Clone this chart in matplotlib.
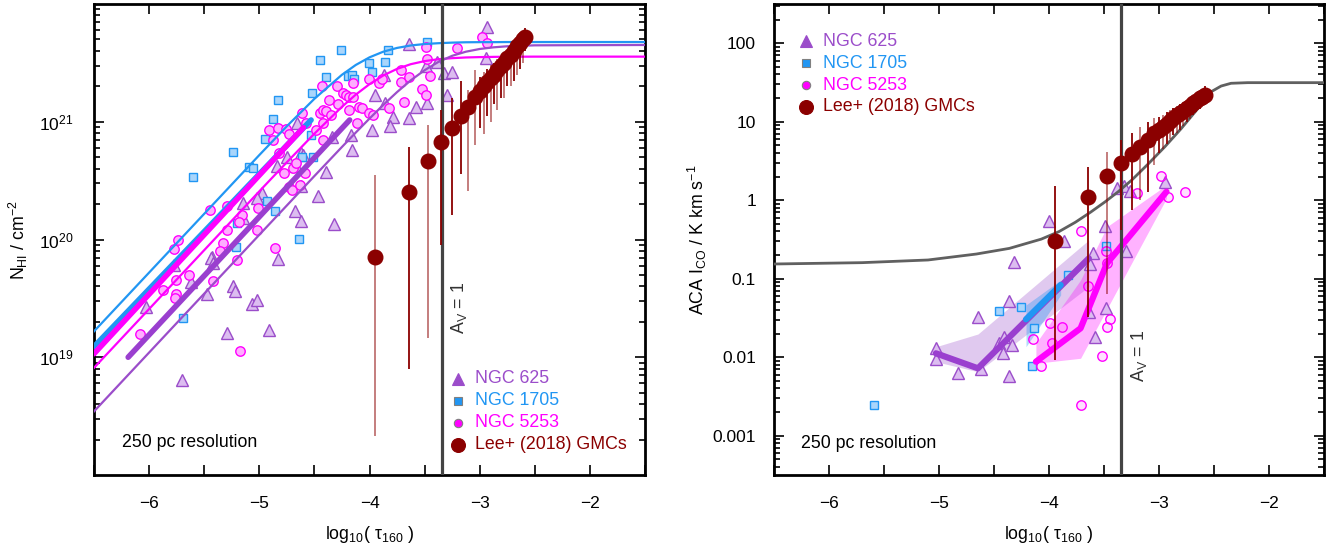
import numpy as np
import matplotlib
matplotlib.use("Agg")
import matplotlib.pyplot as plt
from matplotlib.ticker import FixedLocator, FixedFormatter, NullFormatter

plt.rcParams['font.family'] = ['Liberation Sans', 'DejaVu Sans']
plt.rcParams['mathtext.fontset'] = 'custom'
plt.rcParams['mathtext.rm'] = 'Liberation Sans'
plt.rcParams['mathtext.it'] = 'Liberation Sans:italic'
plt.rcParams['mathtext.bf'] = 'Liberation Sans:bold'
plt.rcParams['mathtext.sf'] = 'Liberation Sans'

# ---------------- colours ----------------
C625 = '#9b4dca'
C625_THICK = '#9a3fcf'
C1705 = '#2196f3'
C5253 = '#ff00ff'
CGMC = '#8b0000'
F625 = '#dcbdf0'
F1705 = '#a9d5fb'
F5253 = '#ffadff'

# ---------------- LEFT PANEL DATA: log10 tau160 vs log10 N_HI ----------------
n625_x = [-4.657, -4.618, -4.603, -4.747, -4.838, -4.669, -4.393, -4.624, -4.468, -4.678,
          -4.618, -4.323, -4.973, -5.024, -5.151, -5.145, -5.431, -4.829, -4.338, -4.167,
          -4.158, -3.977, -3.947, -3.856, -3.865, -3.784, -3.814, -3.640, -3.579, -3.480,
          -3.293, -3.640, -3.489, -3.384, -3.320, -3.254, -2.947, -2.932, -5.771, -6.024,
          -5.618, -5.476, -5.440, -5.422, -5.235, -5.220, -5.070, -5.024, -5.296, -4.910,
          -5.702]
n625_logN = [20.987, 20.737, 20.718, 20.703, 20.624, 20.624, 20.576, 20.457, 20.369, 20.245,
             20.157, 20.129, 20.398, 20.350, 20.313, 20.180, 19.854, 19.834, 20.873, 20.887,
             20.760, 20.930, 21.227, 21.156, 21.397, 21.043, 20.967, 21.029, 21.122, 21.156,
             21.227, 21.660, 21.473, 21.510, 21.411, 21.425, 21.539, 21.802, 19.783, 19.430,
             19.642, 19.537, 19.840, 19.803, 19.605, 19.565, 19.452, 19.486, 19.203, 19.231,
             18.807]

n1705_x = [-5.603, -5.235, -5.091, -5.061, -4.949, -4.880, -4.829, -4.528, -4.519, -4.453,
           -4.398, -4.257, -4.197, -4.158, -4.143, -4.001, -3.977, -3.856, -3.835, -3.480,
           -4.612, -4.513, -4.934, -4.853, -5.205, -4.640, -5.211, -5.696]
n1705_logN = [20.534, 20.743, 20.619, 20.610, 20.851, 21.021, 21.185, 20.888, 21.247, 21.524,
              21.383, 21.609, 21.389, 21.397, 21.363, 21.496, 21.425, 21.510, 21.609, 21.680,
              20.703, 20.703, 20.327, 20.242, 20.143, 20.007, 19.939, 19.336]

n5253_x = [-5.741, -5.777, -5.446, -5.296, -5.296, -5.326, -5.356, -5.160, -5.181, -5.010,
           -5.019, -4.853, -4.910, -4.880, -4.829, -4.760, -4.730, -4.820, -4.775, -4.730,
           -4.700, -4.633, -4.588, -4.609, -4.579, -4.483, -4.432, -4.453, -4.423, -4.393,
           -4.372, -4.348, -4.423, -4.423, -4.287, -4.293, -4.242, -4.212, -4.182, -4.152,
           -4.152, -4.188, -4.115, -4.097, -4.067, -4.007, -3.971, -4.001, -3.911, -3.887,
           -3.820, -3.715, -3.715, -3.691, -3.646, -3.525, -3.489, -3.483, -3.474, -3.453,
           -3.203, -2.983, -2.938, -4.694, -4.664, -5.205, -5.636, -5.753, -5.874, -5.753,
           -5.762, -5.416, -6.084, -5.175]
n5253_logN = [19.996, 19.919, 20.251, 20.287, 20.081, 19.967, 19.905, 20.208, 20.151, 20.265,
              20.081, 19.925, 20.930, 20.845, 20.944, 20.938, 20.893, 20.732, 20.562, 20.449,
              20.420, 20.463, 20.562, 21.077, 20.992, 20.930, 21.304, 21.071, 21.100, 21.094,
              21.185, 21.057, 20.987, 20.845, 21.151, 21.304, 21.241, 21.227, 21.213, 21.213,
              21.326, 21.100, 20.987, 21.122, 21.114, 21.071, 21.057, 21.360, 21.326, 21.360,
              21.114, 21.439, 21.340, 21.171, 21.383, 21.275, 21.227, 21.632, 21.530, 21.391,
              21.623, 21.717, 21.666, 20.604, 20.647, 19.826, 19.699, 19.656, 19.571, 19.537,
              19.500, 19.648, 19.197, 19.050]

# saturating fit curves
curve_x = [-6.5, -5.0, -4.75, -4.5, -4.25, -4.125, -4.0, -3.875, -3.75, -3.625, -3.5,
           -3.375, -3.25, -3.125, -3.0, -2.875, -2.75, -2.5, -1.5]
curve_1705 = [19.22, 20.717, 20.962, 21.195, 21.399, 21.482, 21.547, 21.595, 21.627, 21.648,
              21.660, 21.667, 21.672, 21.675, 21.676, 21.676, 21.677, 21.677, 21.677]
curve_5253 = [18.91, 20.409, 20.656, 20.899, 21.127, 21.230, 21.319, 21.393, 21.449, 21.489,
              21.515, 21.531, 21.540, 21.546, 21.549, 21.551, 21.552, 21.553, 21.553]
curve_625 = [18.54, 20.04, 20.289, 20.539, 20.786, 20.908, 21.027, 21.143, 21.252, 21.352,
             21.438, 21.508, 21.560, 21.595, 21.618, 21.632, 21.641, 21.649, 21.652]

# thick linear fits
thick1705_x = [-6.5, -4.53]
thick1705_logN = [19.09, 21.015]
thick5253_x = [-6.5, -4.60]
thick5253_logN = [19.03, 20.95]
thick625_x = [-6.19, -4.18]
thick625_logN = [19.00, 21.015]

# Lee+ (2018) GMCs (shared x for both panels)
gmc_x = [-3.949, -3.646, -3.471, -3.348, -3.248, -3.173, -3.104, -3.043, -3.0, -2.965,
         -2.93, -2.9, -2.87, -2.84, -2.81, -2.78, -2.75, -2.72, -2.69, -2.66, -2.63, -2.605, -2.585]
gmc_logN = [19.849, 20.406, 20.667, 20.831, 20.949, 21.049, 21.128, 21.213, 21.26, 21.30,
            21.34, 21.37, 21.40, 21.44, 21.47, 21.50, 21.54, 21.57, 21.60, 21.64, 21.67, 21.70, 21.72]
gmc_logN_lo = [18.33, 18.90, 19.163, 19.95, 20.21, 20.56, 20.41, 20.80, 20.95, 20.90,
               21.05, 21.00, 21.15, 21.10, 21.20, 21.20, 21.30, 21.30, 21.35, 21.40, 21.45, 21.50, 21.60]
gmc_logN_hi = [20.548, 20.788, 20.972, 21.10, 21.20, 21.35, 21.27, 21.44, 21.38, 21.42,
               21.45, 21.48, 21.50, 21.53, 21.56, 21.58, 21.61, 21.63, 21.66, 21.69, 21.72, 21.75, 21.80]
gmc_dark_left = [0, 1, 0, 1, 1, 1, 0, 0, 1, 0, 1, 0, 1, 0, 1, 0, 1, 0, 1, 0, 1, 0, 1]

# ---------------- RIGHT PANEL DATA: log10 tau160 vs log10 I_CO ----------------
c625_x = [-5.028, -5.028, -4.829, -4.646, -4.616, -4.450, -4.405, -4.420, -4.360, -4.360,
          -4.336, -4.315, -3.999, -3.863, -3.599, -3.629, -3.638, -3.578, -3.494, -3.479,
          -3.298, -3.383, -3.316, -3.262, -2.946]
c625_logI = [-1.886, -2.027, -2.205, -1.492, -2.154, -1.823, -1.738, -1.950, -1.279, -2.239,
             -1.844, -0.791, -0.269, -0.519, -0.668, -0.812, -1.419, -1.746, -0.328, -1.367,
             -0.646, 0.160, 0.186, 0.118, 0.237]
c1705_x = [-5.594, -4.450, -4.255, -4.134, -4.156, -3.831, -3.479]
c1705_logI = [-2.608, -1.405, -1.358, -1.632, -2.111, -0.952, -0.579]
c5253_x = [-3.713, -3.644, -3.990, -3.885, -4.143, -3.975, -4.074, -3.518, -3.713, -3.482,
           -3.449, -3.473, -2.766, -2.922, -3.202, -2.985, -3.473]
c5253_logI = [-0.392, -1.092, -1.568, -1.619, -1.768, -1.823, -2.111, -1.984, -2.608, -0.642,
              -1.507, -1.609, 0.109, 0.037, 0.088, 0.309, -0.803]

# binned trends and their ranges
trend625_x = [-5.028, -4.646, -3.638]
trend625_logI = [-1.95, -2.141, -0.74]
band625_lo = [-2.057, -2.184, -1.10]
band625_hi = [-1.866, -1.704, -0.506]
trend1705_x = [-4.209, -3.894]
trend1705_logI = [-1.517, -1.08]
band1705_lo = [-1.866, -1.207]
band1705_hi = [-1.334, -1.016]
trend5253_x = [-4.119, -3.713, -3.473, -2.932]
trend5253_logI = [-2.057, -1.631, -0.803, 0.109]
band5253_lo = [-2.077, -2.013, -1.385, 0.025]
band5253_hi = [-1.822, -1.016, -0.337, 0.194]

# model curve (grey)
model_x = [-6.5, -5.7, -5.1, -4.66, -4.36, -4.07, -3.91, -3.76, -3.62, -3.49, -3.37, -3.247,
           -3.1, -2.946, -2.8, -2.645, -2.525, -2.435, -2.345, -2.194, -1.5]
model_logI = [-0.812, -0.795, -0.761, -0.685, -0.613, -0.495, -0.40, -0.28, -0.15, -0.02,
              0.11, 0.258, 0.46, 0.683, 0.91, 1.171, 1.383, 1.455, 1.490, 1.498, 1.498]

gmc_logI = [-0.519, 0.045, 0.309, 0.471, 0.585, 0.682, 0.767, 0.853, 0.90, 0.935,
            0.975, 1.01, 1.045, 1.08, 1.11, 1.14, 1.17, 1.20, 1.235, 1.27, 1.30, 1.32, 1.341]
gmc_logI_lo = [-2.035, -1.483, -1.20, -0.38, -0.124, 0.0, 0.10, 0.45, 0.60, 0.65,
               0.72, 0.78, 0.83, 0.86, 0.90, 0.95, 1.00, 1.03, 1.08, 1.12, 1.16, 1.20, 1.25]
gmc_logI_hi = [0.182, 0.428, 0.62, 0.767, 0.853, 0.93, 1.00, 1.05, 1.06, 1.09,
               1.12, 1.15, 1.17, 1.20, 1.22, 1.25, 1.27, 1.30, 1.32, 1.35, 1.38, 1.41, 1.45]
gmc_dark_right = [1, 1, 0, 1, 1, 0, 1, 0, 1, 0, 1, 0, 1, 0, 1, 0, 1, 0, 1, 0, 1, 0, 1]

AV1_X = -3.343

x_major = [-6, -5, -4, -3, -2]
x_minor = [-6.5, -5.5, -4.5, -3.5, -2.5, -1.5]
left_yticks = [1e19, 1e20, 1e21]
left_ylabels = [r'$\mathdefault{10^{19}}$', r'$\mathdefault{10^{20}}$', r'$\mathdefault{10^{21}}$']
right_yticks = [1e-3, 1e-2, 1e-1, 1, 10, 100]
right_ylabels = ['0.001', '0.01', '0.1', '1', '10', '100']

legend_labels = ['NGC 625', 'NGC 1705', 'NGC 5253', 'Lee+ (2018) GMCs']
legend_colors = [C625, C1705, C5253, CGMC]

# ---------------- figure ----------------
fig = plt.figure(figsize=(13.44, 5.56), dpi=100)
axL = fig.add_axes([94 / 1344, 81 / 556, 551 / 1344, 471 / 556])
axR = fig.add_axes([774 / 1344, 81 / 556, 550 / 1344, 471 / 556])

p10 = lambda v: np.power(10.0, np.asarray(v, dtype=float))
FS = 12.8
TFS = 12.5


def style_axis(ax, ylim, yt, ylab, ypad):
    ax.set_yscale('log')
    ax.set_xlim(-6.5, -1.5)
    ax.set_ylim(*ylim)
    ax.xaxis.set_major_locator(FixedLocator(x_major))
    ax.xaxis.set_minor_locator(FixedLocator(x_minor))
    ax.set_xticklabels(['\u22126', '\u22125', '\u22124', '\u22123', '\u22122'])
    ax.yaxis.set_major_locator(FixedLocator(yt))
    ax.yaxis.set_major_formatter(FixedFormatter(ylab))
    lo, hi = np.log10(ylim[0]), np.log10(ylim[1])
    minors = [m * 10.0 ** d for d in range(int(np.floor(lo)), int(np.ceil(hi)) + 1)
              for m in range(2, 10) if ylim[0] <= m * 10.0 ** d <= ylim[1]]
    ax.yaxis.set_minor_locator(FixedLocator(minors))
    ax.yaxis.set_minor_formatter(NullFormatter())
    ax.tick_params(axis='both', which='both', direction='in', top=True, right=True,
                   width=1.2, labelsize=TFS)
    ax.tick_params(axis='x', which='both', length=7.5, pad=15)
    ax.tick_params(axis='y', which='major', length=7.5, pad=ypad)
    ax.tick_params(axis='y', which='minor', length=4)
    for s in ax.spines.values():
        s.set_linewidth(2.0)
    ax.set_xlabel('log$_{10}$( \u03c4$_{160}$ )', fontsize=FS)
    ax.xaxis.set_label_coords(0.5, -0.105)


def add_legend(ax, x0, y0, dy):
    specs = [dict(marker='^', ms=8.0, mfc=C625, mec=C625, mew=0.8),
             dict(marker='s', ms=5.5, mfc=C1705, mec='#808080', mew=0.8),
             dict(marker='o', ms=6.0, mfc=C5253, mec='#808080', mew=0.8),
             dict(marker='o', ms=10.0, mfc=CGMC, mec=CGMC, mew=0.8)]
    for i, (sp, lab, col) in enumerate(zip(specs, legend_labels, legend_colors)):
        y = y0 - i * dy
        ax.plot([x0], [y], linestyle='none', transform=ax.transAxes, clip_on=False,
                zorder=10, **sp)
        ax.text(x0 + 0.031, y, lab, color=col, fontsize=FS, va='center', ha='left',
                transform=ax.transAxes, zorder=10)


def draw_gmc(ax, logy, lo, hi, dark):
    for x, l, h, d in zip(gmc_x, lo, hi, dark):
        ax.vlines(x, 10 ** l, 10 ** h, colors=CGMC, alpha=1.0 if d else 0.55,
                  linewidth=1.3, zorder=6)
    ax.plot(gmc_x, p10(logy), linestyle='none', marker='o', ms=10.5, mfc=CGMC,
            mec=CGMC, zorder=7)


# ---------------- LEFT ----------------
style_axis(axL, (1e18, 1e22), left_yticks, left_ylabels, 15)
axL.set_ylabel('N$_{\\rm HI}$ / cm$^{-2}$', fontsize=FS)
axL.yaxis.set_label_coords(-0.117, 0.5)

axL.plot(n625_x, p10(n625_logN), linestyle='none', marker='^', ms=8.5, mfc=F625,
         mec=C625, mew=1.0, zorder=2)
axL.plot(n1705_x, p10(n1705_logN), linestyle='none', marker='s', ms=6.0, mfc=F1705,
         mec=C1705, mew=1.0, zorder=2)
axL.plot(n5253_x, p10(n5253_logN), linestyle='none', marker='o', ms=6.8, mfc=F5253,
         mec=C5253, mew=1.0, zorder=2)

axL.plot(curve_x, p10(curve_1705), color=C1705, lw=1.6, zorder=3)
axL.plot(curve_x, p10(curve_5253), color=C5253, lw=1.6, zorder=3)
axL.plot(curve_x, p10(curve_625), color=C625, lw=1.6, zorder=3)
axL.plot(thick1705_x, p10(thick1705_logN), color=C1705, lw=4.0, solid_capstyle='round', zorder=3)
axL.plot(thick5253_x, p10(thick5253_logN), color=C5253, lw=4.0, solid_capstyle='round', zorder=3)
axL.plot(thick625_x, p10(thick625_logN), color=C625_THICK, lw=4.0, solid_capstyle='round', zorder=3)

axL.axvline(AV1_X, color='#444444', lw=2.3, zorder=5)
axL.text(-3.19, 10 ** 19.42, 'A$_{\\rm V}$ = 1', rotation=90, ha='center', va='center',
         fontsize=FS, color='#333333', zorder=8)
draw_gmc(axL, gmc_logN, gmc_logN_lo, gmc_logN_hi, gmc_dark_left)
axL.text(0.05, 0.07, '250 pc resolution', transform=axL.transAxes, fontsize=FS,
         ha='left', va='center', color='black')
add_legend(axL, 0.661, 0.204, 0.0465)

# ---------------- RIGHT ----------------
style_axis(axR, (10 ** -3.5, 10 ** 2.5), right_yticks, right_ylabels, 13)
axR.set_ylabel('ACA I$_{\\rm CO}$ / K km s$^{-1}$', fontsize=FS)
axR.yaxis.set_label_coords(-0.118, 0.5)

axR.fill_between(trend625_x, p10(band625_lo), p10(band625_hi), color=C625, alpha=0.3,
                 linewidth=0, zorder=1)
axR.fill_between(trend5253_x, p10(band5253_lo), p10(band5253_hi), color=C5253, alpha=0.3,
                 linewidth=0, zorder=1)
axR.fill_between(trend1705_x, p10(band1705_lo), p10(band1705_hi), color=C1705, alpha=0.35,
                 linewidth=0, zorder=1)

axR.plot(c625_x, p10(c625_logI), linestyle='none', marker='^', ms=8.5, mfc=F625,
         mec=C625, mew=1.0, zorder=2)
axR.plot(c1705_x, p10(c1705_logI), linestyle='none', marker='s', ms=6.0, mfc=F1705,
         mec=C1705, mew=1.0, zorder=2)
axR.plot(c5253_x, p10(c5253_logI), linestyle='none', marker='o', ms=6.8,
         mfc=(1.0, 0.0, 1.0, 0.12), mec=C5253, mew=1.0, zorder=2)

axR.plot(trend625_x, p10(trend625_logI), color=C625_THICK, lw=4.5, solid_capstyle='round',
         solid_joinstyle='round', zorder=3)
axR.plot(trend1705_x, p10(trend1705_logI), color=C1705, lw=4.5, solid_capstyle='round', zorder=3)
axR.plot(trend5253_x, p10(trend5253_logI), color=C5253, lw=4.5, solid_capstyle='round',
         solid_joinstyle='round', zorder=3)

axR.plot(model_x, p10(model_logI), color='#606060', lw=2.0, zorder=4)
axR.axvline(AV1_X, color='#444444', lw=2.3, zorder=5)
axR.text(-3.182, 10 ** -1.98, 'A$_{\\rm V}$ = 1', rotation=90, ha='center', va='center',
         fontsize=FS, color='#333333', zorder=8)
draw_gmc(axR, gmc_logI, gmc_logI_lo, gmc_logI_hi, gmc_dark_right)
axR.text(0.05, 0.067, '250 pc resolution', transform=axR.transAxes, fontsize=FS,
         ha='left', va='center', color='black')
add_legend(axR, 0.058, 0.921, 0.0465)

fig.savefig('out.png', dpi=100)
